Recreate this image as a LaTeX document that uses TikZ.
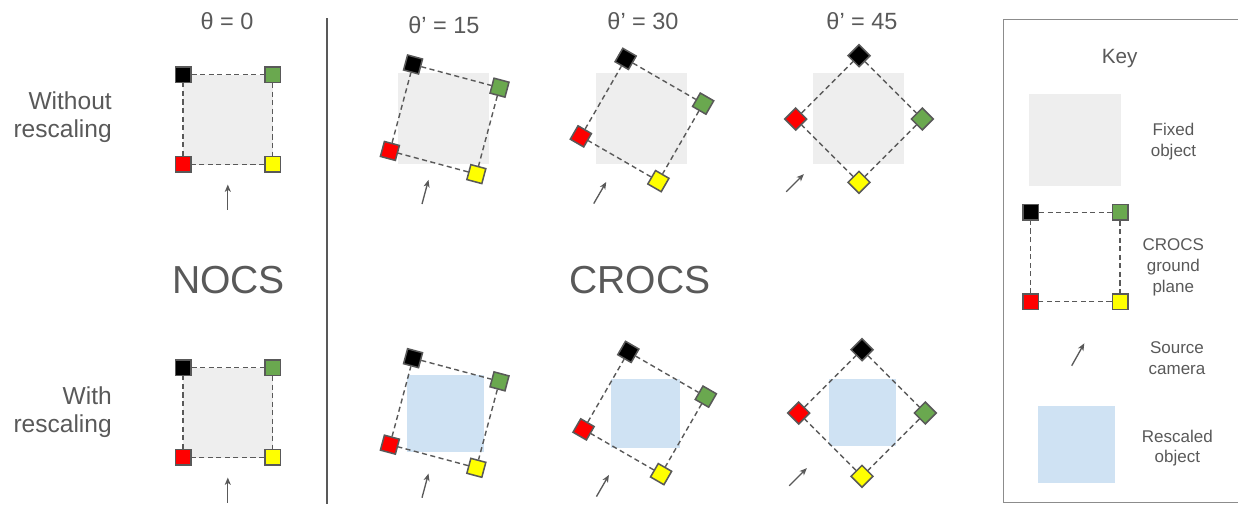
\documentclass[tikz,border=0pt]{standalone}
\usepackage{fontspec}
\setmainfont{Liberation Sans}
\usetikzlibrary{arrows.meta}

\definecolor{ink}{HTML}{595959}
\definecolor{mkgreen}{HTML}{6AA84F}
\definecolor{mkred}{HTML}{FF0000}
\definecolor{mkyellow}{HTML}{FFFF00}
\definecolor{fixedgray}{HTML}{EEEEEE}
\definecolor{rescaleblue}{HTML}{CFE2F3}
\definecolor{framegray}{HTML}{8C8C8C}

\tikzset{
  marker/.style={draw=ink, line width=1.15pt, minimum size=11.6pt, inner sep=0pt, transform shape},
  planeedge/.style={draw=ink, line width=1.05pt, dash pattern=on 3.8pt off 2.6pt},
  camarrow/.style={draw=ink, line width=1pt, -{Stealth[length=5.5pt,width=4.5pt,inset=1.5pt]}},
  fixedobj/.style={fill=fixedgray, draw=none, inner sep=0pt},
  rescaledobj/.style={fill=rescaleblue, draw=none, inner sep=0pt},
  txt/.style={text=ink, inner sep=0pt},
  title/.style={txt, font=\fontsize{17.6}{20}\selectfont},
  rowlabel/.style={txt, align=right, font=\fontsize{18.4}{21}\selectfont},
  bigname/.style={txt, font=\fontsize{29.3}{34}\selectfont},
  keytitle/.style={txt, font=\fontsize{15.5}{18}\selectfont},
  keytext/.style={txt, align=center, font=\fontsize{12.75}{15.6}\selectfont},
}

% ground plane: four coloured corner markers joined by dashed edges,
% turned clockwise about its centre
\newcommand{\groundplane}[4]{% prefix, centre x, centre y, angle
  \begin{scope}[shift={(#2,#3)}, rotate=-#4]
    \node[marker, fill=black]    (#1k) at (-44.75,-44.75) {};
    \node[marker, fill=mkgreen]  (#1g) at ( 44.75,-44.75) {};
    \node[marker, fill=mkyellow] (#1y) at ( 44.75, 44.75) {};
    \node[marker, fill=mkred]    (#1r) at (-44.75, 44.75) {};
    \draw[planeedge] (#1k) -- (#1g) -- (#1y) -- (#1r) -- (#1k);
  \end{scope}}

% source camera arrow below the plane, turned with it
\newcommand{\sourcecam}[5]{% prefix, centre x, centre y, angle, distance
  \begin{scope}[shift={(#2,#3)}, rotate=-#4]
    \coordinate (#1a) at (0,{#5+12.5});
    \coordinate (#1b) at (0,{#5-12.5});
    \draw[camarrow] (#1a) -- (#1b);
  \end{scope}}

\begin{document}
\begin{tikzpicture}[x=0.75pt, y=-0.75pt]
\useasboundingbox (0,0) rectangle (1238,504);

% column titles
\node[title] (t0)  at (227,21)   {θ = 0};
\node[title] (t15) at (444,25)   {θ’ = 15};
\node[title] (t30) at (643,21)   {θ’ = 30};
\node[title] (t45) at (862,21)   {θ’ = 45};

% row labels
\node[rowlabel, anchor=east] (rowa) at (112,117) {Without\\rescaling};
\node[rowlabel, anchor=east] (rowb) at (112,412) {With\\rescaling};

% method names
\node[bigname] (nocs)  at (228.5,280) {NOCS};
\node[bigname] (crocs) at (640,280)   {CROCS};

% divider between the two methods
\coordinate (divtop) at (327,18);
\coordinate (divbot) at (327,504);
\draw[ink, line width=0.9pt] (divtop) -- (divbot);

% ---- top row: fixed object ----
\node[fixedobj, minimum size=67.5pt]  (fa1) at (227.8,119.5) {};
\node[fixedobj, minimum size=68.25pt] (fa2) at (443.8,118.5) {};
\node[fixedobj, minimum size=68.25pt] (fa3) at (641,118.7)   {};
\node[fixedobj, minimum size=68.25pt] (fa4) at (858,118.7)   {};

\groundplane{pa1}{227.8}{119.5}{0}
\groundplane{pa2}{444.7}{119.3}{15}
\groundplane{pa3}{642}{120}{30}
\groundplane{pa4}{859}{119}{45}

\sourcecam{ca1}{227.8}{119.5}{0}{77.5}
\sourcecam{ca2}{444.7}{119.3}{15}{75.2}
\sourcecam{ca3}{642}{120}{30}{84}
\sourcecam{ca4}{859}{119}{45}{90.4}

% ---- bottom row: rescaled object ----
\node[fixedobj, minimum size=67.5pt]     (fb1) at (227.8,412.5) {};
\node[rescaledobj, minimum size=57.75pt] (fb2) at (445.3,413)   {};
\node[rescaledobj, minimum size=51.75pt] (fb3) at (645.3,413.5) {};
\node[rescaledobj, minimum size=50.25pt] (fb4) at (862.5,412.5) {};

\groundplane{pb1}{227.8}{412.5}{0}
\groundplane{pb2}{444.7}{413}{15}
\groundplane{pb3}{644.7}{413}{30}
\groundplane{pb4}{862}{413}{45}

\sourcecam{cb1}{227.8}{412.5}{0}{77.5}
\sourcecam{cb2}{444.7}{413}{15}{75.2}
\sourcecam{cb3}{644.7}{413}{30}{84}
\sourcecam{cb4}{862}{413}{45}{90.4}

% ---- key ----
\draw[framegray, line width=0.9pt] (1250,19.3) -- (1003.3,19.3) -- (1003.3,502.7) -- (1250,502.7);
\node[keytitle] (keyt) at (1119.7,59) {Key};

\node[fixedobj, minimum size=69pt] (kfix) at (1075,140) {};
\node[keytext] (kfixt) at (1173.5,141.5) {Fixed\\object};

\groundplane{kp}{1075.3}{257}{0}
\node[keytext] (kpt) at (1173.3,267.5) {CROCS\\ground\\plane};

\coordinate (kca) at (1071.7,365.7);
\coordinate (kcb) at (1084.3,343.3);
\draw[camarrow] (kca) -- (kcb);
\node[keytext] (kct) at (1177,358.5) {Source\\camera};

\node[rescaledobj, minimum size=57.75pt] (kres) at (1076.3,444.3) {};
\node[keytext] (krest) at (1177.3,448) {Rescaled\\object};
\end{tikzpicture}
\end{document}
